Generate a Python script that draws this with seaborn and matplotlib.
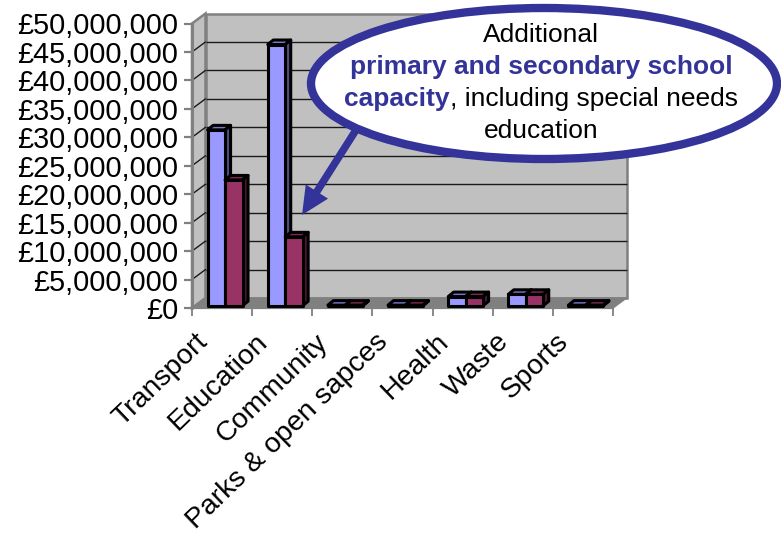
import matplotlib
matplotlib.use("Agg")
import matplotlib.pyplot as plt
import pandas as pd
import seaborn as sns
from matplotlib.patches import Ellipse, Polygon
from matplotlib.transforms import Affine2D, IdentityTransform, offset_copy

categories = ["Transport", "Education", "Community", "Parks & open sapces", "Health", "Waste", "Sports"]
series_a = [30.9e6, 45.9e6, 0.1e6, 0.1e6, 1.6e6, 2.0e6, 0.1e6]
series_b = [22.1e6, 12.1e6, 0.1e6, 0.1e6, 1.6e6, 2.0e6, 0.1e6]
y_ticks = list(range(0, 50_000_001, 5_000_000))

FONT = "Liberation Sans"
BLUE, BLUE_TOP, BLUE_SIDE = "#9999FF", "#7777CC", "#4D4D80"
RED, RED_TOP, RED_SIDE = "#993366", "#7A2952", "#4D1A33"
WALL, FLOOR, FRAME = "#C0C0C0", "#808080", "#808080"
INK = "#333399"
EDGE_W = 2.2

W, H = 781, 533
sns.set_theme(style="white")
plt.rcParams["font.family"] = [FONT, "DejaVu Sans"]

fig = plt.figure(figsize=(W / 100, H / 100), dpi=100)
ax = fig.add_axes([192 / W, 1 - 308 / H, 421 / W, 284.5 / H])
ax.patch.set_visible(False)

frame = pd.DataFrame({
    "category": categories * 2,
    "value": series_a + series_b,
    "series": ["a"] * 7 + ["b"] * 7,
})
sns.barplot(data=frame, x="category", y="value", hue="series", order=categories,
            palette={"a": BLUE, "b": RED}, width=0.58, gap=0, legend=False, saturation=1,
            edgecolor="black", linewidth=EDGE_W, ax=ax, errorbar=None)

ax.set_xlim(-0.5, 6.5)
ax.set_ylim(0, 50_000_000)
for spine in ax.spines.values():
    spine.set_visible(False)
ax.set_xlabel("")
ax.set_ylabel("")

# Depth of the box behind the plotting plane, in pixels
DX, DY = 13.5, 10
back = offset_copy(ax.transData, fig, x=DX, y=DY, units="dots")
identity = IdentityTransform()


def to_px(x, y):
    return ax.transData.transform((x, y))


x0, x1, y0, y1 = -0.5, 6.5, 0, 50_000_000
ax.add_patch(Polygon([(x0, y0), (x1, y0), (x1, y1), (x0, y1)], transform=back, facecolor=WALL,
                     edgecolor=FRAME, linewidth=1.8, zorder=0.5, clip_on=False))
bl, tl = to_px(x0, y0), to_px(x0, y1)
br = to_px(x1, y0)
ax.add_patch(Polygon([bl, tl, tl + (DX, DY), bl + (DX, DY)], transform=identity, facecolor=WALL,
                     edgecolor=FRAME, linewidth=1.8, zorder=0.6, clip_on=False))
ax.add_patch(Polygon([bl, br, br + (DX, DY), bl + (DX, DY)], transform=identity, facecolor=FLOOR,
                     edgecolor=FRAME, linewidth=1, zorder=0.7, clip_on=False))

# Gridlines run along the back wall and fold down the left wall
for tick in y_ticks[1:-1]:
    ax.hlines(tick, x0, x1, transform=back, colors="#1A1A1A", linewidth=1.0, zorder=1, clip_on=False)
    p = to_px(x0, tick)
    ax.plot([p[0], p[0] + DX], [p[1], p[1] + DY], transform=identity, color="#1A1A1A",
            linewidth=1.0, zorder=1, clip_on=False)

# Extrude each bar: the bars stand a little way into the box
BAR_SHIFT = (3, 2.3)
BAR_DEPTH = (5.5, 4.5)
shifted = offset_copy(ax.transData, fig, x=BAR_SHIFT[0], y=BAR_SHIFT[1], units="dots")
for i, bar in enumerate(list(ax.patches)[:14]):
    is_first = i < 7
    z = 4 if is_first else 6
    bar.set_transform(shifted)
    bar.set_zorder(z)
    bar.set_clip_on(False)
    bar.set_joinstyle("round")
    bx0, bx1 = bar.get_x(), bar.get_x() + bar.get_width()
    top = bar.get_height()
    a = to_px(bx0, top) + BAR_SHIFT
    b = to_px(bx1, top) + BAR_SHIFT
    c = to_px(bx1, 0) + BAR_SHIFT
    ax.add_patch(Polygon([a, b, b + BAR_DEPTH, a + BAR_DEPTH], transform=identity,
                         facecolor=BLUE_TOP if is_first else RED_TOP, edgecolor="black",
                         linewidth=EDGE_W, joinstyle="round", zorder=z - 0.1, clip_on=False))
    ax.add_patch(Polygon([b, c, c + BAR_DEPTH, b + BAR_DEPTH], transform=identity,
                         facecolor=BLUE_SIDE if is_first else RED_SIDE, edgecolor="black",
                         linewidth=EDGE_W, joinstyle="round", zorder=z - 0.1, clip_on=False))

# Axes
ax.set_yticks(y_ticks)
ax.set_yticklabels([f"£{v:,}" for v in y_ticks], fontsize=20.8, color="black", fontfamily=FONT)
ax.tick_params(axis="y", length=6, width=1.6, color=FRAME, pad=4, left=True)
ax.plot([x0, x0], [y0, y1], color=FRAME, linewidth=2.2, zorder=2, clip_on=False)
ax.plot([x0, x1], [y0, y0], color=FRAME, linewidth=1.6, zorder=2, clip_on=False)

ax.set_xticks(range(len(categories)))
ax.set_xticklabels(categories, rotation=44, ha="right", rotation_mode="anchor",
                   fontsize=20.4, color="black", fontfamily=FONT)
ax.tick_params(axis="x", which="major", length=0, pad=15, bottom=False)
ax.set_xticks([i - 0.5 for i in range(len(categories) + 1)], minor=True)
ax.tick_params(axis="x", which="minor", length=6, width=1.3, color=FRAME, bottom=True)
for label in ax.get_xticklabels():
    label.set_transform(label.get_transform() + Affine2D().translate(-27, 0))

# Callout, placed in figure pixels measured from the top-left corner
def top_px(x, y):
    return (x, H - y)


ax.annotate("", xy=top_px(302, 215), xytext=top_px(356, 130),
            xycoords="figure pixels", textcoords="figure pixels",
            arrowprops=dict(facecolor=INK, edgecolor=INK, width=5.4, headwidth=19, headlength=20,
                            shrink=0, linewidth=0),
            zorder=10, annotation_clip=False)
fig.add_artist(Ellipse(top_px(544, 83.5), 466, 151, transform=identity, facecolor="white",
                       edgecolor=INK, linewidth=6, zorder=11))

TEXT_X = 541
fs = 19
common = dict(transform=identity, va="baseline", fontsize=fs, fontfamily=FONT, zorder=12)
fig.text(*top_px(TEXT_X, 41.7), "Additional", ha="center", color="black", **common)
fig.text(*top_px(TEXT_X, 74), "primary and secondary school", ha="center", color=INK,
         fontweight="bold", **common)
fig.text(*top_px(TEXT_X, 137.7), "education", ha="center", color="black", **common)

bold_part = fig.text(0, H - 106, "capacity", ha="left", color=INK, fontweight="bold", **common)
rest_part = fig.text(0, H - 106, ", including special needs", ha="left", color="black", **common)
renderer = fig.canvas.get_renderer()
bold_w = bold_part.get_window_extent(renderer).width
rest_w = rest_part.get_window_extent(renderer).width
start = TEXT_X - (bold_w + rest_w + 1) / 2
bold_part.set_x(start)
rest_part.set_x(start + bold_w + 1)

fig.savefig("out.png", dpi=100, facecolor="white")
